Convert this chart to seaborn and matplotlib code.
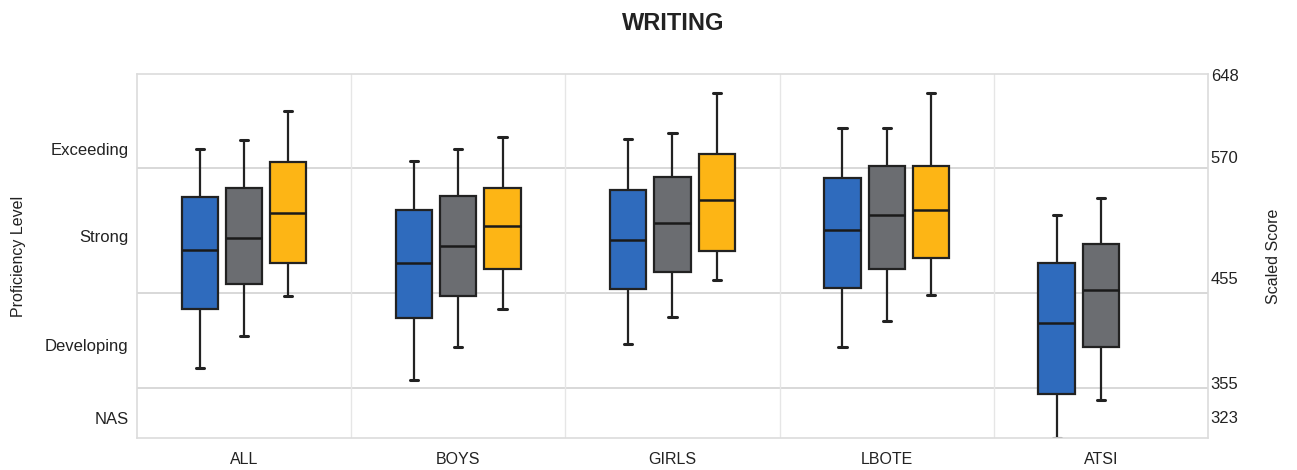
import numpy as np
import pandas as pd
import matplotlib
matplotlib.use('Agg')
import matplotlib.pyplot as plt
import seaborn as sns

# scaled score values: whisker low, Q1, median, Q3, whisker high
groups = ['ALL', 'BOYS', 'GIRLS', 'LBOTE', 'ATSI']
series = ['s1', 's2', 's3']
colors = ['#2f6bbd', '#6b6d71', '#fdb515']

low = {'s1': [376, 363, 401, 398, 323],
       's2': [410, 398, 430, 426, 347],
       's3': [452, 438, 467, 453, None]}
q1 = {'s1': [438, 429, 459, 460, 351],
      's2': [463, 452, 474, 477, 398],
      's3': [483, 477, 494, 487, None]}
med = {'s1': [495, 483, 504, 513, 423],
       's2': [506, 498, 519, 527, 458],
       's3': [529, 517, 541, 531, None]}
q3 = {'s1': [543, 531, 550, 561, 483],
      's2': [552, 544, 562, 572, 500],
      's3': [575, 552, 582, 572, None]}
high = {'s1': [586, 576, 594, 603, 527],
        's2': [593, 586, 599, 603, 542],
        's3': [617, 596, 632, 632, None]}

# proficiency bands: score breaks and their drawn heights (the axis is not linear)
band_scores = [323, 355, 455, 570, 648]
band_heights = [0, 50, 145, 270, 364]
level_names = ['NAS', 'Developing', 'Strong', 'Exceeding']
level_pos = [336, 400, 507, 586]
right_ticks = [323, 355, 455, 570, 648]

rows = []
for s in series:
    for i, g in enumerate(groups):
        if low[s][i] is None:
            continue
        for v in (low[s][i], q1[s][i], med[s][i], q3[s][i], high[s][i]):
            rows.append({'group': g, 'series': s, 'score': v})
df = pd.DataFrame(rows)


def fwd(y):
    return np.interp(y, band_scores, band_heights, left=-1e9, right=1e9)


def inv(h):
    return np.interp(h, band_heights, band_scores)


sns.set_style('white')
plt.rcParams['font.family'] = ['Liberation Sans', 'DejaVu Sans']

fig = plt.figure(figsize=(12.97, 4.70), dpi=100)
ax = fig.add_axes([0.1056, 0.0681, 0.8258, 0.7745])
ax.set_yscale('function', functions=(fwd, inv))

sns.boxplot(data=df, x='group', y='score', hue='series', order=groups, hue_order=series,
            palette=colors, saturation=1, width=0.62, gap=0.18, whis=(0, 100), linewidth=1.6,
            linecolor='#222222', legend=False, ax=ax,
            medianprops={'linewidth': 1.8, 'color': '#1a1a1a'},
            capprops={'linewidth': 2.2})

# short caps like the original
for ln in ax.lines:
    xd, yd = ln.get_data()
    if len(xd) == 2 and yd[0] == yd[1] and 0 < abs(xd[1] - xd[0]) < 0.12:
        c = (xd[0] + xd[1]) / 2
        ln.set_xdata([c - 0.019, c + 0.019])

ax.set_ylim(323, 648)
ax.set_xlim(-0.5, 4.5)

# band lines and group dividers
for y in band_scores[1:4]:
    ax.axhline(y, color='#d6d6d6', lw=1.3, zorder=0)
for x in np.arange(0.5, 4.5, 1):
    ax.axvline(x, color='#e6e6e6', lw=1.0, zorder=0)
for sp in ax.spines.values():
    sp.set_color('#dcdcdc')
    sp.set_linewidth(1.2)

ax.set_yticks(level_pos)
ax.set_yticklabels(level_names, fontsize=12, color='#222222')
ax.yaxis.set_minor_locator(matplotlib.ticker.NullLocator())
ax.tick_params(axis='y', length=0, pad=6)
ax.tick_params(axis='x', length=0, pad=10)
ax.set_xticks(range(len(groups)))
ax.set_xticklabels(groups, fontsize=11.5, color='#222222')
ax.set_xlabel('')
ax.set_ylabel('Proficiency Level', fontsize=11.5, color='#222222', labelpad=14)

ax2 = ax.twinx()
ax2.set_ylim(303, 649)
ax2.set_yticks(right_ticks)
ax2.set_yticklabels([str(t) for t in right_ticks], fontsize=12, color='#222222')
ax2.tick_params(axis='y', length=0, pad=2)
for sp in ax2.spines.values():
    sp.set_visible(False)
ax2.set_ylabel('Scaled Score', fontsize=11.5, color='#222222', labelpad=20)

fig.text(0.519, 0.951, 'WRITING', ha='center', va='center', fontsize=17,
         fontweight='bold', color='#222222')

fig.savefig('out.png', dpi=100)
